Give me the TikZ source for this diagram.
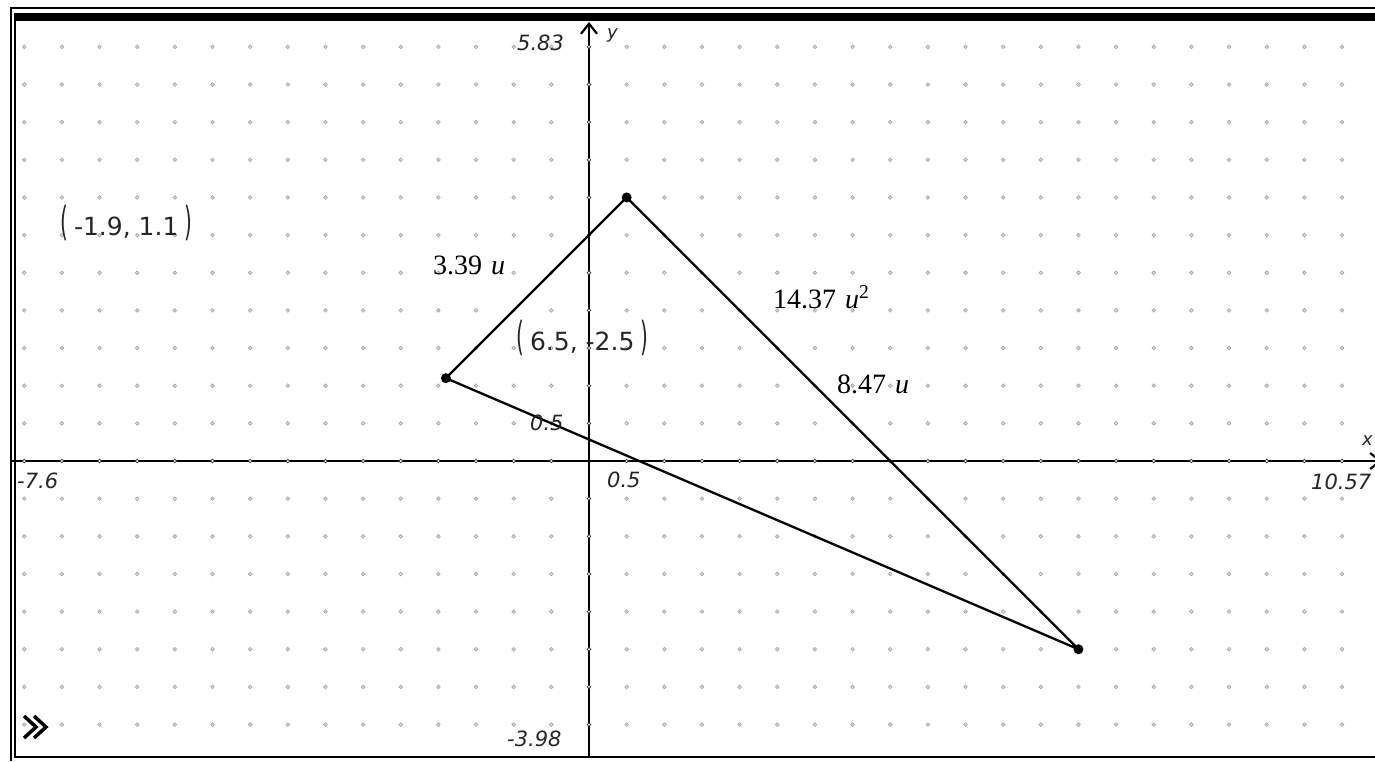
\documentclass[tikz,border=0pt]{standalone}
\usepackage{fontspec}
\setmainfont{Liberation Serif}
\newfontfamily\axfont{DejaVu Sans}
\usetikzlibrary{arrows.meta}
\begin{document}
\begin{tikzpicture}[x=1pt,y=-1pt,
  lbl/.style={inner sep=0pt, anchor=base west},
  axlbl/.style={lbl, font=\axfont\itshape\fontsize{21}{21}\selectfont, text=black!85},
  axname/.style={lbl, font=\axfont\itshape\fontsize{18}{18}\selectfont, text=black!85},
  meas/.style={lbl, font=\fontsize{28}{28}\selectfont},
  crd/.style={lbl, font=\axfont\fontsize{25}{25}\selectfont, text=black!85},
  gdot/.style={draw=gray!70, fill=gray!25, line width=0.7pt},
  atick/.style={draw=black!80, fill=white, line width=0.7pt},
  axis/.style={line width=1.7pt, -{Straight Barb[length=10pt,width=16pt,line width=2.2pt]}},
  tri/.style={line width=2.3pt, line join=round},
  vtx/.style={circle, fill=black, inner sep=0pt, minimum size=10pt}]
\useasboundingbox (0,0) rectangle (1375,761);
\fill[white] (0,0) rectangle (1375,761);
% frame
\fill[black] (15,13) rectangle (1375,21);
\draw[line width=1.8pt] (1375,8) -- (11,8) -- (11,761);
\draw[line width=1.2pt] (15,13) -- (15,757) -- (1375,757);
% grid and axes
\begin{scope}[shift={(589,461)},x=75.3pt,y=75.3pt]
  \foreach \i in {-15,...,20}{
    \foreach \j in {-7,...,11}{
      \ifnum\i=0\else\ifnum\j=0\else
        \path[gdot] (\i*0.5,\j*0.5) circle (1.8pt);
      \fi\fi
    }
  }
  \coordinate (xs) at (-7.68,0);
  \coordinate (xe) at (10.53,0);
  \coordinate (ys) at (0,-3.93);
  \coordinate (ye) at (0,5.83);
  \draw[axis] (xs) -- (xe);
  \draw[axis] (ys) -- (ye);
  \foreach \i in {-15,...,20}{\ifnum\i=0\else\path[atick] (\i*0.5,0) circle (1.8pt);\fi}
  \foreach \j in {-7,...,11}{\ifnum\j=0\else\path[atick] (0,\j*0.5) circle (1.8pt);\fi}
  \node[vtx] (A) at (0.5,3.5) {};
  \node[vtx] (B) at (-1.9,1.1) {};
  \node[vtx] (C) at (6.5,-2.5) {};
  \draw[tri] (A.center) -- (B.center) -- (C.center) -- cycle;
\end{scope}
% axis labels
\node[axlbl] (ytop) at (517,50) {5.83};
\node[axname] (ylab) at (607,38) {y};
\node[axlbl] (xmin) at (17,488) {-7.6};
\node[axlbl] (xmax) at (1311,489) {10.57};
\node[axname] (xlab) at (1362,445) {x};
\node[axlbl] (xhalf) at (607,487) {0.5};
\node[axlbl] (yhalf) at (530,430) {0.5};
\node[axlbl] (ybot) at (507,746) {-3.98};
% measurements
\node[meas] (lAB) at (433,274) {3.39\hspace{9pt}\textit{u}};
\node[meas] (area) at (773,308) {14.37\hspace{9pt}\textit{u}\textsuperscript{2}};
\node[meas] (lAC) at (837,393) {8.47\hspace{9pt}\textit{u}};
% coordinates
\node[crd] (cB) at (60,235) {\scalebox{0.8}[1.6]{(}\hspace{6pt}-1.9,\hspace{8pt}1.1\hspace{6pt}\scalebox{0.8}[1.6]{)}};
\node[crd] (cC) at (516,350) {\scalebox{0.8}[1.6]{(}\hspace{6pt}6.5,\hspace{8pt}-2.5\hspace{6pt}\scalebox{0.8}[1.6]{)}};
% menu icon
\draw[line width=3.5pt, line join=miter] (24,716) -- (36,727) -- (24,738);
\draw[line width=3.5pt, line join=miter] (34,716) -- (46,727) -- (34,738);
\end{tikzpicture}
\end{document}
